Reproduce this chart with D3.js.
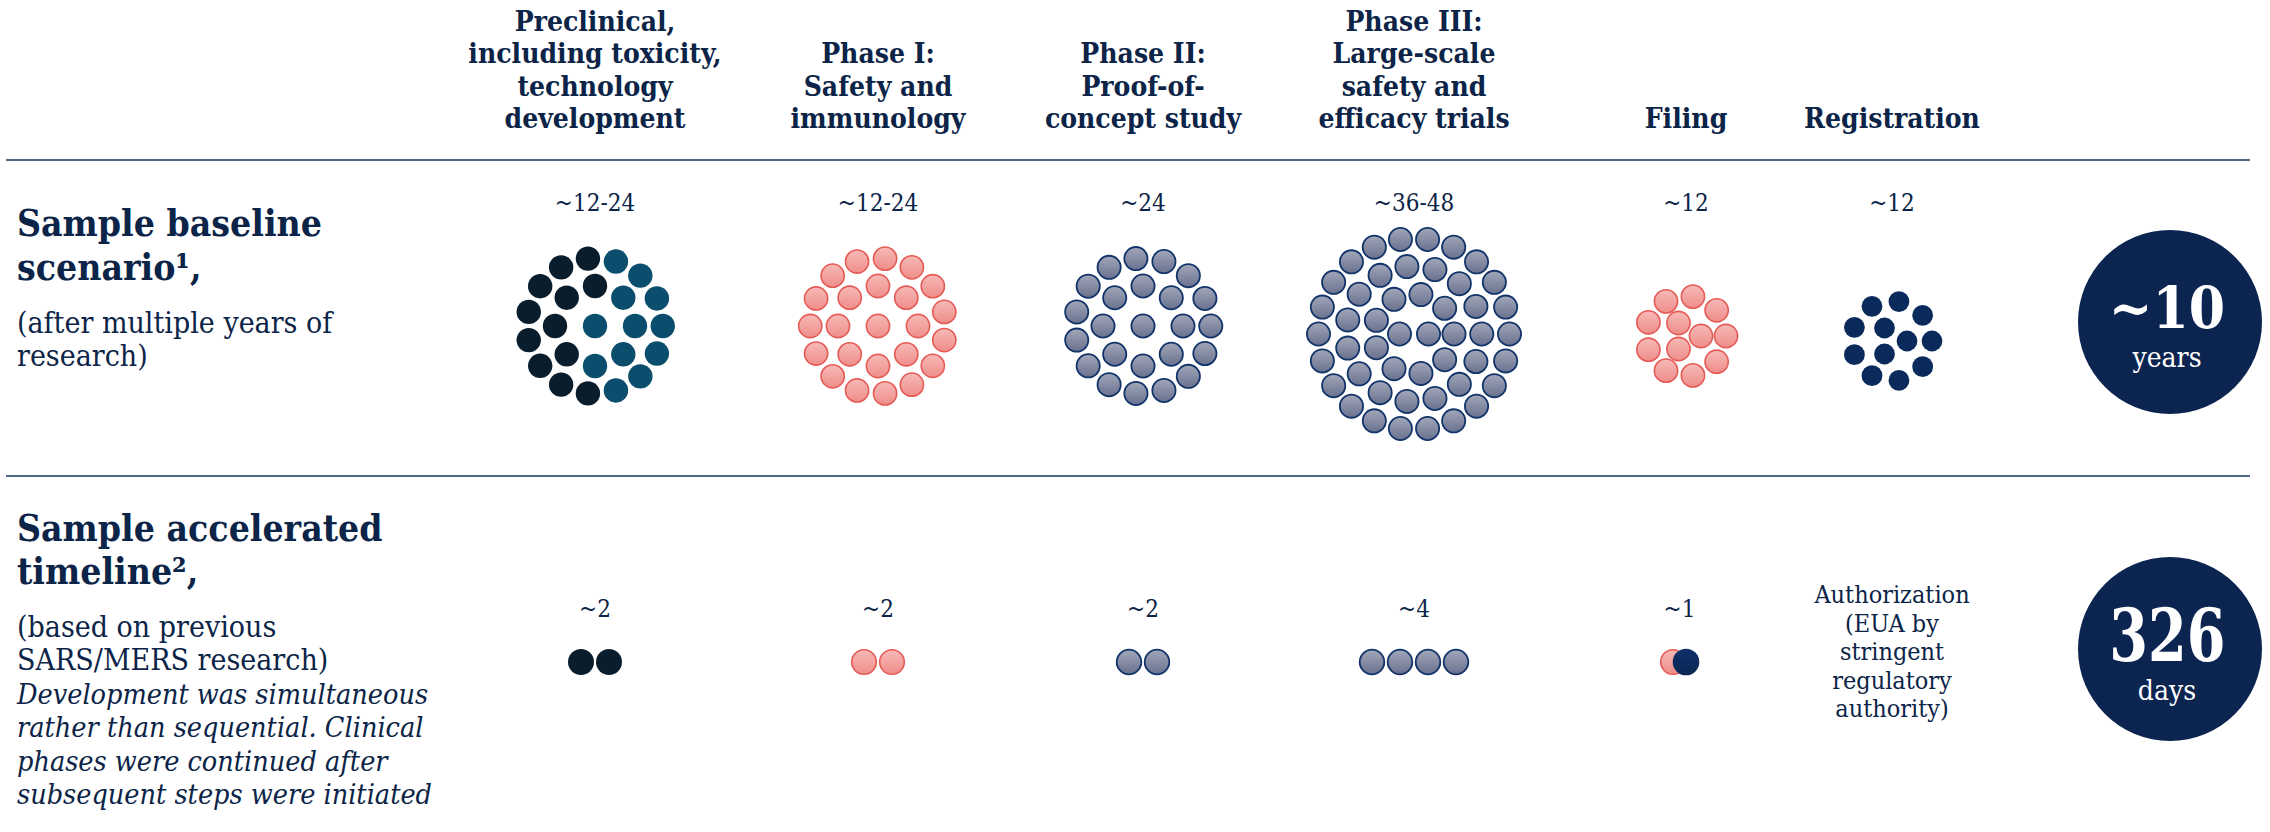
<!DOCTYPE html>
<html>
<head>
<meta charset="utf-8">
<script src="https://cdn.jsdelivr.net/npm/d3@7"></script>
<style>
  html, body { margin: 0; padding: 0; background: #ffffff; }
  svg { display: block; font-family: "DejaVu Serif Condensed", "DejaVu Serif", serif; font-stretch: condensed; }
</style>
</head>
<body>
<svg id="chart" width="2270" height="832"></svg>
<script>
// ---- Data ---------------------------------------------------------------
const phases = ["preclinical", "phase1", "phase2", "phase3", "filing", "registration"];
const phaseTitles = [
  ["Preclinical,", "including toxicity,", "technology", "development"],
  ["Phase I:", "Safety and", "immunology"],
  ["Phase II:", "Proof-of-", "concept study"],
  ["Phase III:", "Large-scale", "safety and", "efficacy trials"],
  ["Filing"],
  ["Registration"]
];

// Baseline scenario: duration in months, one dot per month
const baselineLabels = ["~12-24", "~12-24", "~24", "~36-48", "~12", "~12"];
const baselineDots = [24, 24, 24, 48, 12, 12];
// Preclinical dots split: technology development / toxicity
const preclinicalSplit = [12, 12];

// Accelerated timeline: duration in months, one dot per month
const acceleratedLabels = ["~2", "~2", "~2", "~4", "~1", ""];
const acceleratedDots = [2, 2, 2, 4, 1, 0];
// Registration ran concurrently with filing (dot drawn on the filing column)
const concurrentRegistrationDots = 1;
const authorizationLines = ["Authorization", "(EUA by", "stringent", "regulatory", "authority)"];

const totalValues = ["~10", "326"];
const totalUnits = ["years", "days"];

const rowTitles = [
  { title: ["Sample baseline", "scenario\u00B9,"], sub: ["(after multiple years of", "research)"], note: [] },
  { title: ["Sample accelerated", "timeline\u00B2,"], sub: ["(based on previous", "SARS/MERS research)"],
    note: ["Development was simultaneous", "rather than sequential. Clinical",
           "phases were continued after", "subsequent steps were initiated"] }
];

// ---- Styling / layout ---------------------------------------------------
const INK = "#0b2447";
const RULE = "#53698a";
const NAVY = "#0b2a5c";
const DISC = "#0b2450";

const svg = d3.select("#chart");
const defs = svg.append("defs");

function vGradient(id, top, bottom) {
  const g = defs.append("linearGradient").attr("id", id)
    .attr("x1", 0).attr("y1", 0).attr("x2", 0).attr("y2", 1);
  g.append("stop").attr("offset", "0%").attr("stop-color", top);
  g.append("stop").attr("offset", "100%").attr("stop-color", bottom);
}
vGradient("gPink", "#f7bab8", "#ee8d89");
vGradient("gGray", "#a2a7b9", "#69718e");
vGradient("gNavy", "#10306a", "#0a2652");

const dotStyle = {
  dark:  { fill: "#0a1d2c", stroke: "none", sw: 0 },
  teal:  { fill: "#0b4d6d", stroke: "none", sw: 0 },
  pink:  { fill: "url(#gPink)", stroke: "#e65a55", sw: 1.6 },
  gray:  { fill: "url(#gGray)", stroke: "#12346a", sw: 1.8 },
  navy:  { fill: NAVY, stroke: "none", sw: 0 },
  navyG: { fill: "url(#gNavy)", stroke: "none", sw: 0 }
};
const phaseStyle = ["dark", "pink", "gray", "gray", "pink", "navy"];

// Column centres
const colX = d3.scaleOrdinal().domain(phases).range([595, 878, 1143, 1414, 1686, 1892]);

// Vertical anchors of the two rows
const rowY = d3.scaleOrdinal().domain(["baseline", "accelerated"]).range([326, 662]);
const clusterShift = [0, 0, 0, 8, 10, 15];

// Ring packing: a core group, then concentric rings
const ringPlans = { 12: [3, 9], 24: [1, 8, 15], 48: [2, 9, 15, 22] };
const coreRadius = { 1: 0, 2: 14.5, 3: 15 };
const ringRadius = d3.scaleLinear().domain([1, 3]).range([40, 95.5]);
const startAngle = [0, 180, 0, 0, 0, 0];

function packDots(n, startDeg) {
  const plan = ringPlans[n];
  const pts = [];
  plan.forEach((count, i) => {
    const R = i === 0 ? coreRadius[count] : ringRadius(i);
    for (let j = 0; j < count; j++) {
      const a = (startDeg + 360 * j / count) * Math.PI / 180;
      pts.push({ dx: R * Math.cos(a), dy: R * Math.sin(a) });
    }
  });
  return pts;
}

// ---- Rules --------------------------------------------------------------
svg.append("g").selectAll("line").data([160, 476]).join("line")
  .attr("x1", 6).attr("x2", 2250).attr("y1", d => d).attr("y2", d => d)
  .attr("stroke", RULE).attr("stroke-width", 2.2);

// ---- Column headers -----------------------------------------------------
const headerG = svg.append("g").attr("fill", INK).attr("font-weight", "bold")
  .attr("font-size", 28).attr("text-anchor", "middle");
phases.forEach((p, i) => {
  const lines = phaseTitles[i];
  headerG.append("text").selectAll("tspan").data(lines).join("tspan")
    .attr("x", colX(p))
    .attr("y", (d, k) => 128 - (lines.length - 1 - k) * 32.3)
    .text(d => d);
});

// ---- Row titles ---------------------------------------------------------
const titleG = svg.append("g").attr("fill", INK);
const titleBase = [[236, 280, 333, 366], [541, 584, 637, 670]];
rowTitles.forEach((r, i) => {
  const b = titleBase[i];
  titleG.append("text").attr("font-weight", "bold").attr("font-size", 37)
    .selectAll("tspan").data(r.title).join("tspan")
    .attr("x", 17).attr("y", (d, k) => b[k]).text(d => d);
  titleG.append("text").attr("font-size", 30)
    .selectAll("tspan").data(r.sub).join("tspan")
    .attr("x", 17).attr("y", (d, k) => b[2 + k]).text(d => d);
  if (r.note.length) {
    titleG.append("text").attr("font-size", 28.5).attr("font-style", "italic")
      .selectAll("tspan").data(r.note).join("tspan")
      .attr("x", 17).attr("y", (d, k) => 704 + k * 33.4).text(d => d);
  }
});

// ---- Baseline clusters --------------------------------------------------
const labelG = svg.append("g").attr("fill", INK).attr("font-size", 24).attr("text-anchor", "middle");
labelG.selectAll("text.base").data(phases).join("text").attr("class", "base")
  .attr("x", p => colX(p)).attr("y", 211)
  .text((p, i) => baselineLabels[i]);

const clusterG = svg.append("g");
phases.forEach((p, i) => {
  const cx = colX(p), cy = rowY("baseline") + clusterShift[i];
  const pts = packDots(baselineDots[i], startAngle[i]);
  let styleOf = () => phaseStyle[i];
  if (p === "preclinical") {
    // left half: technology development, right half: toxicity
    const order = pts.map((d, k) => k).sort((a, b) =>
      d3.ascending(pts[a].dx, pts[b].dx) || d3.ascending(Math.abs(pts[a].dy), Math.abs(pts[b].dy)));
    const darkSet = new Set(order.slice(0, preclinicalSplit[0]));
    styleOf = (d, k) => darkSet.has(k) ? "dark" : "teal";
  }
  const r = p === "registration" ? 10.4 : (p === "preclinical" ? 12.2 : 11.6);
  clusterG.append("g").selectAll("circle").data(pts).join("circle")
    .attr("cx", d => cx + d.dx).attr("cy", d => cy + d.dy).attr("r", r)
    .each(function (d, k) {
      const s = dotStyle[styleOf(d, k)];
      d3.select(this).attr("fill", s.fill).attr("stroke", s.stroke).attr("stroke-width", s.sw);
    });
});

// ---- Accelerated row ----------------------------------------------------
const accY = rowY("accelerated");
const step = 28;
phases.forEach((p, i) => {
  const n = acceleratedDots[i];
  if (!n) return;
  const extra = p === "filing" ? concurrentRegistrationDots : 0;
  const items = d3.range(n).map(() => phaseStyle[i])
    .concat(d3.range(extra).map(() => "navyG"));
  const total = items.length;
  // filing and registration overlap: the registration dot sits over the filing dot
  const xs = extra
    ? d3.scaleLinear().domain([0, total - 1]).range([colX(p) - 13, colX(p)])
    : d3.scaleLinear().domain([0, Math.max(total - 1, 1)])
        .range([colX(p) - (total - 1) * step / 2, colX(p) + (total - 1) * step / 2]);
  const mid = d3.mean(items, (d, k) => xs(k));
  labelG.append("text").attr("x", mid).attr("y", 617).text(acceleratedLabels[i]);
  svg.append("g").selectAll("circle").data(items).join("circle")
    .attr("cx", (d, k) => xs(k))
    .attr("cy", accY)
    .attr("r", d => d === "navyG" ? 13.3 : (d === "dark" ? 13 : 12.3))
    .attr("fill", d => dotStyle[d].fill)
    .attr("stroke", d => dotStyle[d].stroke)
    .attr("stroke-width", d => dotStyle[d].sw);
});

svg.append("text").attr("fill", INK).attr("font-size", 25).attr("text-anchor", "middle")
  .selectAll("tspan").data(authorizationLines).join("tspan")
  .attr("x", colX("registration")).attr("y", (d, k) => 603 + k * 28.5).text(d => d);

// ---- Totals -------------------------------------------------------------
const totalY = [322, 649];
const totalG = svg.append("g");
totalValues.forEach((v, i) => {
  const g = totalG.append("g").attr("transform", `translate(2170,${totalY[i]})`);
  g.append("circle").attr("r", 92).attr("fill", DISC);
  g.append("text").attr("text-anchor", "middle").attr("fill", "#fff")
    .attr("font-weight", "bold").attr("font-size", i === 0 ? 58 : 72)
    .attr("transform", i === 0 ? null : "scale(0.86,1)")
    .attr("y", i === 0 ? 6 : 12).attr("x", -3).text(v);
  g.append("text").attr("text-anchor", "middle").attr("fill", "#fff")
    .attr("font-size", 28).attr("y", i === 0 ? 45 : 51).attr("x", -3).text(totalUnits[i]);
});
</script>
</body>
</html>
